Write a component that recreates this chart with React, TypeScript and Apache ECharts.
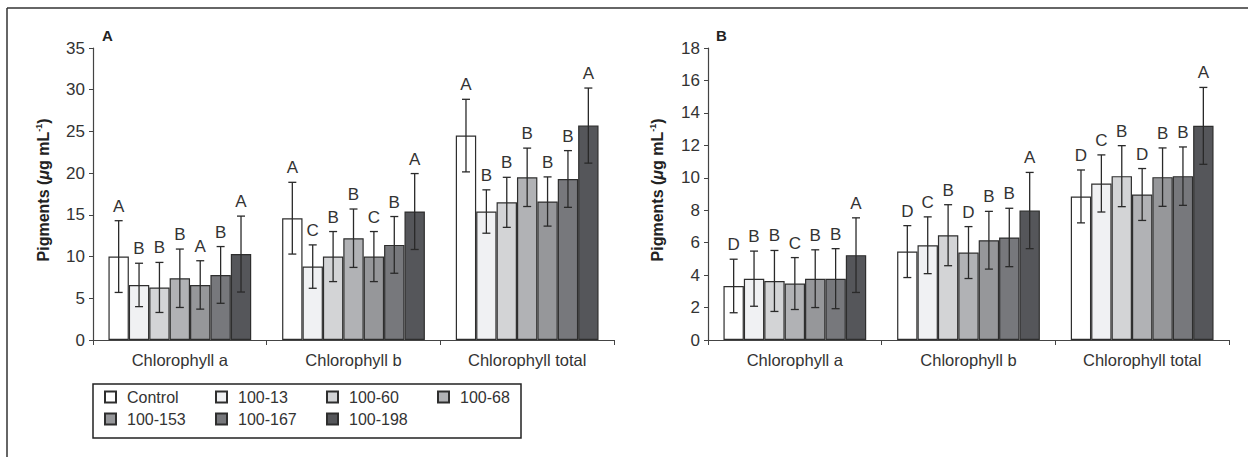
import React, { useEffect, useRef } from "react";
import * as echarts from "echarts";

const categories = ["Chlorophyll a", "Chlorophyll b", "Chlorophyll total"];
const treatments = ["Control", "100-13", "100-60", "100-68", "100-153", "100-167", "100-198"];

// Panel A (µg mL-1): per treatment, values for [Chl a, Chl b, Chl total]
const meansA = [
  [10.0, 14.6, 24.5],
  [6.6, 8.8, 15.4],
  [6.3, 10.0, 16.5],
  [7.4, 12.2, 19.5],
  [6.6, 10.0, 16.6],
  [7.8, 11.4, 19.3],
  [10.3, 15.4, 25.7],
];
const errorsA = [
  [4.3, 4.3, 4.35],
  [2.6, 2.6, 2.6],
  [3.0, 3.0, 3.0],
  [3.5, 3.5, 3.5],
  [2.9, 3.0, 2.95],
  [3.4, 3.4, 3.4],
  [4.55, 4.55, 4.5],
];
const lettersA = [
  ["A", "A", "A"],
  ["B", "C", "B"],
  ["B", "B", "B"],
  ["B", "B", "B"],
  ["A", "C", "B"],
  ["B", "B", "B"],
  ["A", "A", "A"],
];

// Panel B
const meansB = [
  [3.33, 5.45, 8.85],
  [3.78, 5.84, 9.65],
  [3.64, 6.46, 10.1],
  [3.48, 5.39, 8.97],
  [3.78, 6.15, 10.04],
  [3.78, 6.32, 10.1],
  [5.23, 7.98, 13.2],
];
const errorsB = [
  [1.65, 1.6, 1.63],
  [1.7, 1.75, 1.76],
  [1.88, 1.88, 1.88],
  [1.6, 1.6, 1.6],
  [1.78, 1.78, 1.8],
  [1.85, 1.8, 1.8],
  [2.3, 2.35, 2.37],
];
const lettersB = [
  ["D", "D", "D"],
  ["B", "C", "C"],
  ["B", "B", "B"],
  ["C", "D", "D"],
  ["B", "B", "B"],
  ["B", "B", "B"],
  ["A", "A", "A"],
];

const yTicksA = { min: 0, max: 35, interval: 5 };
const yTicksB = { min: 0, max: 18, interval: 2 };

const barColors = ["#ffffff", "#f0f1f3", "#d3d4d6", "#b1b2b5", "#96979a", "#77787c", "#55565a"];
const FONT = "'Liberation Sans', Arial, sans-serif";
const CAT_GAP = 0.178;

function buildPanel(gridIndex: number, means: number[][], errors: number[][], letters: string[][]) {
  const series: any[] = [];
  treatments.forEach((name, t) => {
    series.push({
      type: "bar",
      name,
      xAxisIndex: gridIndex,
      yAxisIndex: gridIndex,
      data: means[t],
      barGap: "0%",
      barCategoryGap: CAT_GAP * 100 + "%",
      itemStyle: { color: barColors[t], borderColor: "#2e2e2e", borderWidth: 1.2 },
      emphasis: { disabled: true },
    });
  });
  const errData: number[][] = [];
  const errLetters: string[] = [];
  treatments.forEach((_, t) => {
    categories.forEach((__, c) => {
      errData.push([c, means[t][c], errors[t][c], t]);
      errLetters.push(letters[t][c]);
    });
  });
  series.push({
    type: "custom",
    xAxisIndex: gridIndex,
    yAxisIndex: gridIndex,
    z: 10,
    silent: true,
    encode: { x: 0, y: 1 },
    data: errData,
    renderItem: (params: any, api: any) => {
      const c = api.value(0);
      const m = api.value(1);
      const e = api.value(2);
      const t = api.value(3);
      const center = api.coord([c, m]);
      const band = api.size([1, 0])[0];
      const groupW = band * (1 - CAT_GAP);
      const bw = groupW / treatments.length;
      const x = center[0] - groupW / 2 + bw * (t + 0.5);
      const yTop = api.coord([c, m + e])[1];
      const yBot = api.coord([c, m - e])[1];
      const stroke = { stroke: "#2a2a2a", lineWidth: 1.3 };
      const cap = 4;
      return {
        type: "group",
        children: [
          { type: "line", shape: { x1: x, y1: yTop, x2: x, y2: yBot }, style: stroke },
          { type: "line", shape: { x1: x - cap, y1: yTop, x2: x + cap, y2: yTop }, style: stroke },
          { type: "line", shape: { x1: x - cap, y1: yBot, x2: x + cap, y2: yBot }, style: stroke },
          {
            type: "text",
            x,
            y: yTop - 6,
            style: {
              text: errLetters[params.dataIndex],
              align: "center",
              verticalAlign: "bottom",
              fontSize: 17,
              fontFamily: FONT,
              fill: "#333",
            },
          },
        ],
      };
    },
  });
  return series;
}

function axisPair(gridIndex: number, ticks: { min: number; max: number; interval: number }) {
  const x = {
    type: "category",
    gridIndex,
    data: categories,
    axisLine: { lineStyle: { color: "#444", width: 1.2 } },
    axisTick: { show: true, alignWithLabel: false, length: 5, lineStyle: { color: "#444" } },
    axisLabel: { interval: 0, fontSize: 16.5, fontFamily: FONT, color: "#333", margin: 11 },
  };
  const y = {
    type: "value",
    gridIndex,
    min: ticks.min,
    max: ticks.max,
    interval: ticks.interval,
    splitLine: { show: false },
    axisLine: { show: true, lineStyle: { color: "#444", width: 1.2 } },
    axisTick: { show: true, length: 4, lineStyle: { color: "#444" } },
    axisLabel: { fontSize: 17, fontFamily: FONT, color: "#333", margin: 8 },
  };
  return { x, y };
}

function yTitle(cx: number, cy: number) {
  return {
    type: "text",
    x: cx,
    y: cy,
    rotation: Math.PI / 2,
    style: {
      text: "{b|Pigments (}{i|\u03bc}{b|g mL}{s|-1}{b|)}",
      align: "center",
      verticalAlign: "middle",
      fill: "#222",
      rich: {
        b: { fontSize: 16, fontWeight: "bold", fontFamily: FONT, fill: "#222", lineHeight: 18 },
        i: { fontSize: 16, fontWeight: "bold", fontStyle: "italic", fontFamily: FONT, fill: "#222", lineHeight: 18 },
        s: { fontSize: 9, fontWeight: "bold", fontFamily: FONT, fill: "#222", verticalAlign: "top", lineHeight: 18 },
      },
    },
  };
}

export default function App() {
  const ref = useRef<HTMLDivElement>(null);
  useEffect(() => {
    if (!ref.current) return;
    const chart = echarts.init(ref.current, undefined, { renderer: "svg" });
    const a = axisPair(0, yTicksA);
    const b = axisPair(1, yTicksB);
    chart.setOption({
      animation: false,
      backgroundColor: "#ffffff",
      grid: [
        { left: 93, top: 48, width: 521, height: 292 },
        { left: 708, top: 48, width: 521, height: 292 },
      ],
      xAxis: [a.x, b.x],
      yAxis: [a.y, b.y],
      legend: {
        data: treatments,
        left: 104,
        top: 388,
        width: 452,
        itemWidth: 11,
        itemHeight: 11,
        itemGap: 4,
        padding: 0,
        icon: "rect",
        selectedMode: false,
        textStyle: { fontSize: 16, fontFamily: FONT, color: "#333", width: 84, lineHeight: 18, padding: [0, 0, 0, 6] },
      },
      graphic: [
        { type: "line", shape: { x1: 7, y1: 8, x2: 1248, y2: 8 }, style: { stroke: "#333", lineWidth: 1.5 } },
        { type: "line", shape: { x1: 7, y1: 8, x2: 7, y2: 457 }, style: { stroke: "#333", lineWidth: 1.5 } },
        { type: "rect", shape: { x: 93, y: 384, width: 428, height: 54 }, style: { fill: "none", stroke: "#222", lineWidth: 1.5 } },
        { type: "text", x: 102, y: 35, style: { text: "A", fontSize: 15, fontWeight: "bold", fontFamily: FONT, fill: "#222", verticalAlign: "middle" } },
        { type: "text", x: 716, y: 35, style: { text: "B", fontSize: 15, fontWeight: "bold", fontFamily: FONT, fill: "#222", verticalAlign: "middle" } },
        yTitle(43, 190),
        yTitle(657, 190),
      ],
      series: [...buildPanel(0, meansA, errorsA, lettersA), ...buildPanel(1, meansB, errorsB, lettersB)],
    });
    return () => chart.dispose();
  }, []);
  return <div ref={ref} style={{ position: "fixed", left: 0, top: 0, width: 1248, height: 457 }} />;
}
